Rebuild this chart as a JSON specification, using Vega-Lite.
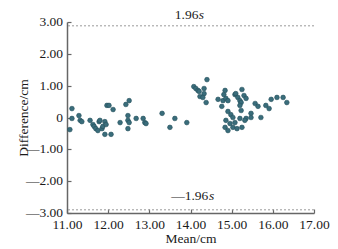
{
  "$schema": "https://vega.github.io/schema/vega-lite/v6.json",
  "width": 247,
  "height": 191,
  "autosize": "none",
  "padding": {"left": 67, "top": 22, "right": 24, "bottom": 36},
  "background": "white",
  "config": {
    "font": "Liberation Serif",
    "view": {"stroke": null},
    "axis": {"grid": false, "labelFont": "Liberation Serif", "titleFont": "Liberation Serif", "labelFontSize": 13.5, "titleFontSize": 13.5, "titleFontWeight": "normal", "labelColor": "#1a1a1a", "titleColor": "#1a1a1a", "domainColor": "#666", "domainWidth": 1.5, "tickColor": "#666", "tickWidth": 1.2, "labelOverlap": false}
  },
  "datasets": {
    "pts": [
      {"mean": 11.12, "diff": 0.28}, {"mean": 11.12, "diff": -0.03}, {"mean": 11.07, "diff": -0.38},
      {"mean": 11.29, "diff": 0.06}, {"mean": 11.32, "diff": -0.09}, {"mean": 11.36, "diff": -0.13},
      {"mean": 11.56, "diff": -0.09}, {"mean": 11.63, "diff": -0.22}, {"mean": 11.66, "diff": -0.28},
      {"mean": 11.70, "diff": -0.35}, {"mean": 11.75, "diff": -0.41}, {"mean": 11.78, "diff": -0.13},
      {"mean": 11.80, "diff": -0.09}, {"mean": 11.85, "diff": -0.35}, {"mean": 11.87, "diff": -0.28},
      {"mean": 11.92, "diff": -0.13}, {"mean": 11.95, "diff": -0.22}, {"mean": 11.97, "diff": 0.38},
      {"mean": 12.02, "diff": 0.38}, {"mean": 12.12, "diff": 0.25}, {"mean": 11.92, "diff": -0.53},
      {"mean": 12.07, "diff": -0.53}, {"mean": 12.29, "diff": -0.16}, {"mean": 12.43, "diff": 0.41},
      {"mean": 12.51, "diff": 0.53}, {"mean": 12.48, "diff": 0.06}, {"mean": 12.48, "diff": -0.09},
      {"mean": 12.51, "diff": -0.16}, {"mean": 12.48, "diff": -0.35}, {"mean": 12.68, "diff": -0.03},
      {"mean": 12.85, "diff": -0.03}, {"mean": 12.89, "diff": -0.16}, {"mean": 12.92, "diff": -0.19},
      {"mean": 13.31, "diff": 0.13}, {"mean": 13.62, "diff": -0.03}, {"mean": 13.91, "diff": -0.16},
      {"mean": 13.50, "diff": -0.31},
      {"mean": 14.40, "diff": 1.19}, {"mean": 14.08, "diff": 0.97}, {"mean": 14.13, "diff": 0.91},
      {"mean": 14.18, "diff": 0.85}, {"mean": 14.21, "diff": 0.82}, {"mean": 14.33, "diff": 0.91},
      {"mean": 14.33, "diff": 0.75}, {"mean": 14.23, "diff": 0.66}, {"mean": 14.30, "diff": 0.63},
      {"mean": 14.38, "diff": 0.47},
      {"mean": 14.67, "diff": 0.57}, {"mean": 14.79, "diff": 0.53}, {"mean": 14.84, "diff": 0.85},
      {"mean": 14.81, "diff": 0.72}, {"mean": 14.86, "diff": 0.60}, {"mean": 14.91, "diff": 0.53},
      {"mean": 14.76, "diff": 0.35}, {"mean": 14.91, "diff": 0.19}, {"mean": 15.08, "diff": 0.72},
      {"mean": 15.10, "diff": 0.75}, {"mean": 15.15, "diff": 0.63}, {"mean": 15.20, "diff": 0.53},
      {"mean": 15.25, "diff": 0.88}, {"mean": 15.30, "diff": 0.69}, {"mean": 15.35, "diff": 0.60},
      {"mean": 15.23, "diff": 0.47}, {"mean": 15.20, "diff": 0.38}, {"mean": 15.23, "diff": 0.22},
      {"mean": 14.98, "diff": 0.09}, {"mean": 15.03, "diff": 0.00}, {"mean": 14.86, "diff": -0.09},
      {"mean": 15.08, "diff": -0.16}, {"mean": 14.96, "diff": -0.19}, {"mean": 15.20, "diff": -0.03},
      {"mean": 15.35, "diff": -0.03}, {"mean": 15.47, "diff": 0.13}, {"mean": 15.47, "diff": 0.00},
      {"mean": 15.57, "diff": 0.44}, {"mean": 15.64, "diff": 0.35}, {"mean": 15.71, "diff": 0.00},
      {"mean": 15.83, "diff": 0.38}, {"mean": 15.91, "diff": 0.28}, {"mean": 15.96, "diff": 0.57},
      {"mean": 16.10, "diff": 0.63}, {"mean": 16.25, "diff": 0.63}, {"mean": 16.34, "diff": 0.47},
      {"mean": 14.84, "diff": -0.31}, {"mean": 14.91, "diff": -0.41}, {"mean": 15.03, "diff": -0.31},
      {"mean": 15.13, "diff": -0.35}, {"mean": 15.25, "diff": -0.31}, {"mean": 15.32, "diff": -0.09}
    ],
    "limits": [{"diff": 2.88}, {"diff": -2.9}],
    "yticks": [
      {"diff": 3, "label": "3.00"}, {"diff": 2, "label": "2.00"}, {"diff": 1, "label": "1.00"},
      {"diff": 0, "label": "0"}, {"diff": -1, "label": "\u20141.00"}, {"diff": -2, "label": "\u20142.00"},
      {"diff": -3, "label": "\u20143.00"}
    ],
    "nums": [{"label": "1.96", "mean": 13.62, "diff": 3.08}, {"label": "\u20141.96", "mean": 13.53, "diff": -2.58}],
    "ess": [{"label": "s", "mean": 14.2, "diff": 3.08}, {"label": "s", "mean": 14.45, "diff": -2.58}]
  },
  "encoding": {
    "y": {"field": "diff", "type": "quantitative", "title": "Difference/cm",
      "scale": {"domain": [-3, 3], "nice": false, "zero": false},
      "axis": {"tickCount": 7, "tickSize": -4, "labels": false, "titlePadding": 36}}
  },
  "layer": [
    {
      "data": {"name": "limits"},
      "mark": {"type": "rule", "color": "#999", "strokeDash": [2, 2], "strokeWidth": 1},
      "encoding": {}
    },
    {
      "data": {"name": "pts"},
      "mark": {"type": "circle", "size": 22, "opacity": 1, "color": "#3a6d7b", "stroke": "#234f5b", "strokeWidth": 0.6},
      "encoding": {
        "x": {"field": "mean", "type": "quantitative", "title": "Mean/cm",
          "scale": {"domain": [11, 17], "nice": false, "zero": false},
          "axis": {"values": [11, 12, 13, 14, 15, 16, 17], "tickCount": 12, "format": ".2f", "tickSize": -4, "labelPadding": 8, "titlePadding": 1, "labelFlush": false, "labelOverlap": false}}
      }
    },
    {
      "data": {"name": "yticks"},
      "mark": {"type": "text", "align": "right", "baseline": "middle", "dx": -4, "fontSize": 13.5, "font": "Liberation Serif", "color": "#1a1a1a"},
      "encoding": {
        "x": {"datum": 11, "type": "quantitative"},
        "text": {"field": "label"}
      }
    },
    {
      "data": {"name": "nums"},
      "mark": {"type": "text", "align": "left", "baseline": "alphabetic", "fontSize": 13.5, "font": "Liberation Serif", "color": "#1a1a1a"},
      "encoding": {
        "x": {"field": "mean", "type": "quantitative"},
        "text": {"field": "label"}
      }
    },
    {
      "data": {"name": "ess"},
      "mark": {"type": "text", "align": "left", "baseline": "alphabetic", "fontSize": 13.5, "fontStyle": "italic", "font": "Liberation Serif", "color": "#1a1a1a"},
      "encoding": {
        "x": {"field": "mean", "type": "quantitative"},
        "text": {"field": "label"}
      }
    }
  ]
}
